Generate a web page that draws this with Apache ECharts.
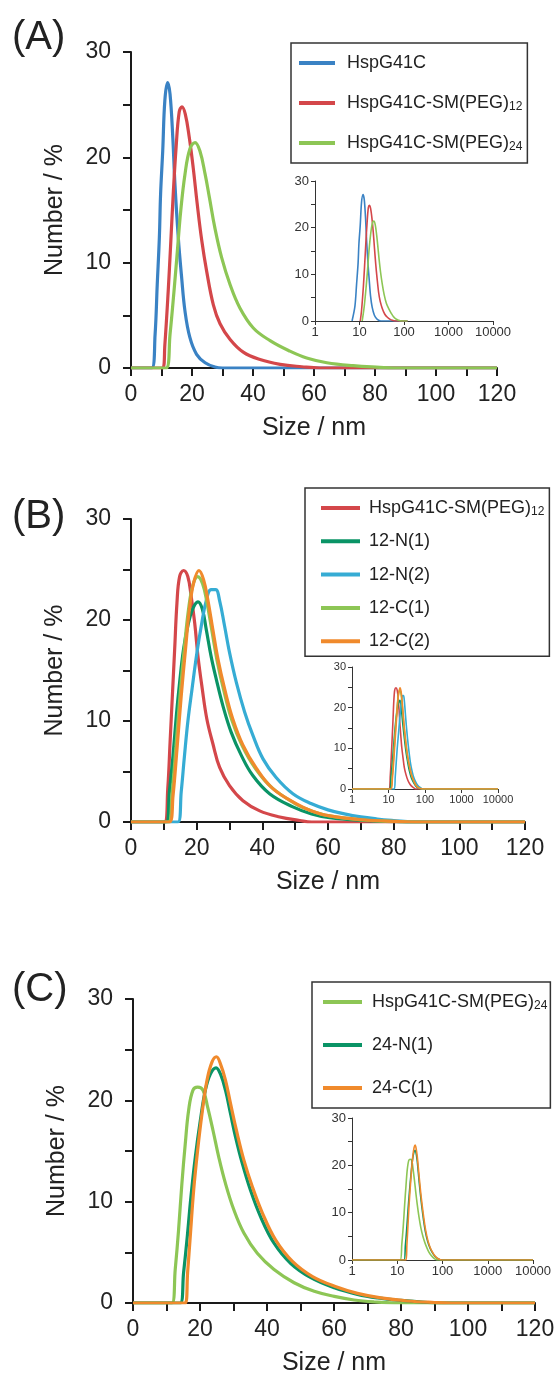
<!DOCTYPE html>
<html>
<head>
<meta charset="utf-8">
<script src="https://cdn.jsdelivr.net/npm/echarts@6/dist/echarts.min.js"></script>
<style>
html,body{margin:0;padding:0;background:#fff;}
#chart{width:559px;height:1374px;}
</style>
</head>
<body>
<div id="chart"></div>
<script>
// ---------------- DATA (size in nm, number %) ----------------
// Panel A
const A_HspG41C = [[0,0],[6.8,0],[7.9,3.2],[8.6,7.9],[9.3,12.4],[9.7,16.5],[10.4,20.6],[11.1,25.4],[12.0,27.1],[12.8,26.0],[13.7,21.9],[14.4,17.5],[15.5,12.4],[16.6,8.6],[17.7,5.4],[19.3,2.9],[21.5,1.3],[24.3,0.5],[27.5,0.1],[30,0],[120,0]];
const A_PEG12 = [[0,0],[10.4,0],[11.1,2.2],[12.2,7.3],[13.0,11.7],[13.9,16.8],[14.8,21.0],[15.8,24.3],[16.7,24.8],[17.8,24.1],[19.1,21.9],[20.4,19.0],[21.7,15.6],[23.2,12.1],[24.8,9.2],[27.0,6.0],[29.2,4.2],[32.5,2.7],[36.8,1.5],[42.3,0.8],[48.9,0.35],[56,0.12],[62,0],[120,0]];
const A_PEG24 = [[0,0],[11.5,0],[12.8,3.2],[14.1,7.3],[15.2,11.1],[16.3,14.9],[17.7,18.4],[19.3,20.8],[21.0,21.4],[22.6,20.6],[24.3,18.4],[25.7,16.2],[27.5,13.3],[29.7,10.5],[32.5,7.9],[35.7,5.7],[40.1,3.8],[45.6,2.6],[52.1,1.6],[57.6,0.95],[64.2,0.5],[72.8,0.22],[81.6,0.06],[86,0],[120,0]];
// Panel B
const B_PEG12 = [[0,0],[10.2,0],[11.2,3.3],[11.9,7.9],[12.6,12.5],[13.3,17.1],[14.0,21.7],[14.8,24.3],[16.0,24.9],[17.3,24.3],[18.3,22.4],[19.4,19.7],[20.4,16.4],[21.7,13.2],[23.1,10.2],[24.9,7.8],[27.0,5.4],[30.0,3.6],[34.1,2.1],[39.2,1.1],[45.3,0.5],[51.4,0.15],[55,0],[120,0]];
const B_12N1 = [[0,0],[10.7,0],[11.7,3.0],[12.8,6.6],[13.8,10.5],[14.8,13.8],[16.0,17.1],[17.3,19.4],[18.8,21.1],[20.4,21.8],[21.7,21.1],[22.9,19.1],[24.4,16.4],[26.0,14.1],[28.0,11.5],[30.5,8.9],[33.6,6.6],[37.1,4.6],[42.2,2.8],[49.3,1.5],[55,0.8],[60.5,0.43],[70.7,0.16],[80.8,0.03],[84,0],[120,0]];
const B_12N2 = [[0,0],[14.3,0],[15.3,3.0],[16.3,6.6],[17.3,9.9],[18.6,13.2],[20.1,16.8],[21.4,19.4],[22.9,21.9],[24.4,23.0],[25.8,23.0],[27.0,21.9],[28.5,19.4],[30.0,16.8],[32.1,13.8],[34.6,10.9],[37.1,8.6],[40.2,6.25],[44.2,4.4],[49.3,2.8],[55,1.8],[60,1.2],[65,0.8],[70,0.5],[75,0.3],[80,0.15],[86,0],[120,0]];
const B_12C1 = [[0,0],[11.4,0],[12.5,2.8],[13.7,7.5],[15.0,12.8],[16.3,17.4],[17.5,21.0],[18.8,23.4],[20.3,24.3],[21.8,23.6],[23.1,21.8],[24.6,19.0],[26.2,16.0],[28.2,13.1],[30.7,10.1],[33.8,7.6],[37.9,5.3],[42.9,3.4],[50.1,1.8],[55,1.1],[60.5,0.6],[70.7,0.2],[80.8,0.05],[85,0],[120,0]];
const B_12C2 = [[0,0],[11.7,0],[12.8,2.6],[14.0,7.2],[15.3,12.5],[16.6,17.1],[17.8,21.1],[19.1,23.7],[20.7,24.9],[22.1,24.0],[23.4,22.0],[24.9,19.1],[26.5,16.1],[28.5,13.2],[31.0,10.2],[34.1,7.6],[38.2,5.3],[43.2,3.3],[50.4,1.8],[55,1.1],[60.5,0.6],[70.7,0.22],[80.8,0.06],[88,0],[120,0]];
// Panel C
const C_PEG24 = [[0,0],[11.6,0],[12.6,3.3],[13.6,7.2],[14.6,11.8],[15.6,15.7],[16.6,19.0],[17.9,21.0],[19.3,21.3],[20.9,21.0],[22.3,19.3],[23.9,17.0],[25.6,14.4],[27.6,11.8],[30.1,9.2],[33.1,6.9],[37.1,4.9],[42.1,3.3],[48.1,2.0],[54.1,1.15],[60.1,0.65],[66,0.3],[72,0.1],[78,0],[120,0]];
const C_24N1 = [[0,0],[14.1,0],[15.1,3.0],[16.1,6.2],[17.3,10.5],[18.6,14.4],[20.1,18.0],[21.6,21.0],[23.1,22.6],[24.8,23.2],[26.1,22.6],[27.6,21.0],[29.1,18.7],[30.6,16.4],[32.6,13.8],[35.1,11.1],[38.1,8.5],[42.1,5.9],[47.1,3.9],[53.1,2.5],[60.1,1.5],[67,0.85],[73,0.5],[80,0.25],[88,0.05],[92,0],[120,0]];
const C_24C1 = [[0,0],[15.6,0],[16.3,3.0],[17.1,6.6],[18.1,11.1],[19.3,15.1],[20.6,18.7],[22.1,22.0],[23.6,23.8],[24.9,24.3],[26.1,23.6],[27.6,22.0],[29.1,19.7],[30.9,17.0],[33.1,14.1],[35.6,11.5],[38.6,8.9],[42.6,6.2],[47.6,4.1],[53.6,2.6],[60.6,1.6],[67,0.95],[74,0.5],[82,0.2],[90,0.05],[95,0],[120,0]];
// zero counts measured out to the ends of the log-scale inset range
const INSET_ZERO_ENDS = [[1,0],[10000,0]];

// names / labels
const PANEL_LABELS = ['(A)','(B)','(C)'];
const X_NAME = 'Size / nm';
const Y_NAME = 'Number / %';
const MAIN_X = {min:0, max:120, interval:20};
const MAIN_Y = {min:0, max:30, interval:10};
const INSET_X = {min:1, max:10000};
const INSET_Y = {min:0, max:30, interval:10};

const N_HSP = 'HspG41C', N_12 = 'HspG41C-SM(PEG)12', N_24 = 'HspG41C-SM(PEG)24';
const PANELS = [
  {series:[[N_HSP, A_HspG41C, '#3a82c4'], [N_12, A_PEG12, '#d4474a'], [N_24, A_PEG24, '#8dc655']], extendInset:false},
  {series:[[N_12, B_PEG12, '#d4474a'], ['12-N(1)', B_12N1, '#0a9466'], ['12-N(2)', B_12N2, '#36acd4'], ['12-C(1)', B_12C1, '#8dc655'], ['12-C(2)', B_12C2, '#f08a2c']], extendInset:true},
  {series:[[N_24, C_PEG24, '#8dc655'], ['24-N(1)', C_24N1, '#0a9466'], ['24-C(1)', C_24C1, '#f08a2c']], extendInset:true}
];

// ---------------- LAYOUT ----------------
const FONT = '"Liberation Sans", Arial, Helvetica, sans-serif';
const INK = '#222';
const MAIN_GRIDS = [
  {left:131, top:52, width:366, height:316},
  {left:131, top:519, width:394, height:303},
  {left:133, top:999, width:402, height:304}
];
const INSET_GRIDS = [
  {left:315, top:181, width:178, height:140, font:13},
  {left:352, top:667, width:146, height:122, font:11},
  {left:352, top:1118, width:181, height:142, font:13}
];
const LEGENDS = [
  {left:291, top:43, padding:[10,5,10,8], itemGap:20, itemWidth:36, textPad:7},
  {left:305, top:488, padding:[10,5,5,16], itemGap:13.3, itemWidth:39, textPad:4},
  {left:312, top:982, padding:[10,3,10,11], itemGap:23, itemWidth:39, textPad:5}
];
const LABEL_POS = [[12,38],[12,517],[12,990]];

const grids = [], xAxes = [], yAxes = [], series = [], legends = [], graphics = [];

MAIN_GRIDS.forEach((g, i) => {
  grids.push({left:g.left, top:g.top, width:g.width, height:g.height, containLabel:false, outerBoundsMode:'none'});
  xAxes.push({
    gridIndex:i, type:'value', min:MAIN_X.min, max:MAIN_X.max, interval:MAIN_X.interval,
    name:X_NAME, nameLocation:'middle', nameGap:48,
    nameTextStyle:{fontSize:25, fontFamily:FONT, color:INK},
    axisLine:{show:true, onZero:false, lineStyle:{color:'#1a1a1a', width:2}},
    axisTick:{show:true, length:8, lineStyle:{color:'#1a1a1a', width:2}},
    minorTick:{show:true, splitNumber:2, length:8, lineStyle:{color:'#1a1a1a', width:2}},
    axisLabel:{fontSize:23, fontFamily:FONT, color:INK, margin:15},
    splitLine:{show:false}, minorSplitLine:{show:false}
  });
  yAxes.push({
    gridIndex:i, type:'value', min:MAIN_Y.min, max:MAIN_Y.max, interval:MAIN_Y.interval,
    name:Y_NAME, nameLocation:'middle', nameGap:63,
    nameTextStyle:{fontSize:25, fontFamily:FONT, color:INK},
    axisLine:{show:true, lineStyle:{color:'#1a1a1a', width:2}},
    axisTick:{show:true, length:8, lineStyle:{color:'#1a1a1a', width:2}},
    minorTick:{show:true, splitNumber:2, length:8, lineStyle:{color:'#1a1a1a', width:2}},
    axisLabel:{fontSize:23, fontFamily:FONT, color:INK, margin:20},
    splitLine:{show:false}, minorSplitLine:{show:false}
  });
});
INSET_GRIDS.forEach((g, i) => {
  grids.push({left:g.left, top:g.top, width:g.width, height:g.height, containLabel:false, outerBoundsMode:'none'});
  xAxes.push({
    gridIndex:3+i, type:'log', logBase:10, min:INSET_X.min, max:INSET_X.max,
    axisLine:{show:true, onZero:false, lineStyle:{color:'#333', width:1}},
    axisTick:{show:true, length:4, lineStyle:{color:'#333', width:1}},
    axisLabel:{fontSize:g.font, fontFamily:FONT, color:'#333', margin:5, formatter:v => String(Math.round(v))},
    splitLine:{show:false}
  });
  yAxes.push({
    gridIndex:3+i, type:'value', min:INSET_Y.min, max:INSET_Y.max, interval:INSET_Y.interval,
    axisLine:{show:true, lineStyle:{color:'#333', width:1}},
    axisTick:{show:true, length:4, lineStyle:{color:'#333', width:1}},
    minorTick:{show:true, splitNumber:2, length:4, lineStyle:{color:'#333', width:1}},
    axisLabel:{fontSize:g.font, fontFamily:FONT, color:'#333', margin:6},
    splitLine:{show:false}, minorSplitLine:{show:false}
  });
});

PANELS.forEach((p, i) => {
  p.series.forEach(([name, data, color]) => {
    series.push({
      type:'line', name, data, xAxisIndex:i, yAxisIndex:i, color,
      showSymbol:false, smooth:0.4, clip:true,
      lineStyle:{width:3.2, color}, emphasis:{disabled:true}, z:3
    });
    let inset = data.filter(d => d[0] >= INSET_X.min);
    if (p.extendInset) inset = [INSET_ZERO_ENDS[0]].concat(inset, [INSET_ZERO_ENDS[1]]);
    series.push({
      type:'line', name, data:inset, xAxisIndex:3+i, yAxisIndex:3+i, color,
      showSymbol:false, smooth:0.3, clip:true,
      lineStyle:{width:1.6, color}, emphasis:{disabled:true}, z:3
    });
  });
  const L = LEGENDS[i];
  legends.push({
    data:p.series.map(s => s[0]), orient:'vertical', left:L.left, top:L.top,
    padding:L.padding, itemGap:L.itemGap, itemWidth:L.itemWidth, itemHeight:4, icon:'rect',
    borderColor:'#333', borderWidth:1.5, borderRadius:0, selectedMode:false,
    formatter: name => { const m = name.match(/^(.*\(PEG\))(\d+)$/); return m ? m[1] + '{sub|' + m[2] + '}' : name; },
    textStyle:{fontSize:18, fontFamily:FONT, color:INK, lineHeight:20, padding:[0,0,0,L.textPad],
      rich:{sub:{fontSize:12, fontFamily:FONT, color:INK, lineHeight:12, verticalAlign:'bottom'}}}
  });
  graphics.push({type:'text', x:LABEL_POS[i][0], y:LABEL_POS[i][1],
    style:{text:PANEL_LABELS[i], font:'40px ' + FONT, fill:INK, align:'left', verticalAlign:'middle'}});
});

const chart = echarts.init(document.getElementById('chart'), null, {renderer:'canvas'});
chart.setOption({
  animation:false, backgroundColor:'#fff',
  grid:grids, xAxis:xAxes, yAxis:yAxes, series, legend:legends, graphic:graphics
});
</script>
</body>
</html>
